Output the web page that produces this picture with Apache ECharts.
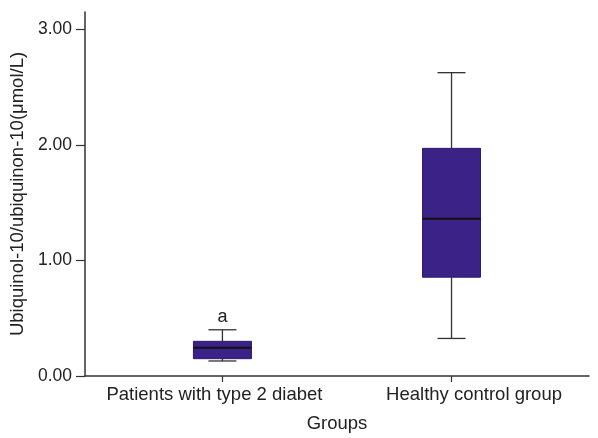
<!DOCTYPE html>
<html><head><meta charset="utf-8">
<script src="https://cdn.jsdelivr.net/npm/echarts@6/dist/echarts.min.js"></script>
<style>html,body{margin:0;padding:0;background:#fff}#c{width:598px;height:438px}</style>
</head><body><div id="c"></div>
<script>
var categories = ['Patients with type 2 diabet', 'Healthy control group'];
// [lower whisker, Q1, median, Q3, upper whisker]
var boxValues = [
  [0.13, 0.15, 0.245, 0.30, 0.40],
  [0.325, 0.855, 1.36, 1.97, 2.625]
];
var annotations = ['a', ''];
var yTicks = [0, 1, 2, 3];
var xPositions = [1, 2];

var chart = echarts.init(document.getElementById('c'), null, {renderer: 'canvas'});
var font = 'Liberation Sans, Arial, sans-serif';
var boxColor = '#3b2287';
var richKeys = ['p', 'h'];

var data = boxValues.map(function (v, i) { return [xPositions[i]].concat(v).concat([i]); });

chart.setOption({
  animation: false,
  grid: {left: 84, right: 9, top: 12, bottom: 62},
  xAxis: {
    type: 'value', min: 0.4, max: 2.6,
    name: 'Groups', nameLocation: 'middle', nameGap: 38,
    nameTextStyle: {fontFamily: font, fontSize: 18.5, color: '#222'},
    axisLine: {show: true, lineStyle: {color: '#333', width: 1.5}},
    axisTick: {show: true, length: 6, customValues: xPositions, lineStyle: {color: '#333', width: 1.2}},
    axisLabel: {customValues: xPositions, margin: 9, fontFamily: font, fontSize: 18.5, color: '#222',
      formatter: function (v) { var i = xPositions.indexOf(v); return i >= 0 ? '{' + richKeys[i] + '|' + categories[i] + '}' : ''; },
      rich: {
        p: {fontFamily: font, fontSize: 18.5, color: '#222', padding: [0, 16, 0, 0]},
        h: {fontFamily: font, fontSize: 18.5, color: '#222', padding: [0, 0, 0, 45]}
      }},
    splitLine: {show: false}
  },
  yAxis: {
    type: 'value', min: 0, max: 3.15,
    name: 'Ubiquinol-10/ubiquinon-10(μmol/L)', nameLocation: 'middle', nameGap: 56,
    nameTextStyle: {fontFamily: font, fontSize: 18.5, color: '#222'},
    axisLine: {show: true, lineStyle: {color: '#333', width: 1.5}},
    axisTick: {show: true, length: 9, customValues: yTicks, lineStyle: {color: '#333', width: 1.2}},
    axisLabel: {customValues: yTicks, margin: 13, fontFamily: font, fontSize: 17.5, color: '#222',
      formatter: function (v) { return v.toFixed(2); }},
    splitLine: {show: false}
  },
  series: [{
    type: 'custom',
    data: data,
    encode: {x: 0, y: [1, 2, 3, 4, 5]},
    renderItem: function (params, api) {
      var x = api.value(0);
      var lo = api.coord([x, api.value(1)]);
      var q1 = api.coord([x, api.value(2)]);
      var med = api.coord([x, api.value(3)]);
      var q3 = api.coord([x, api.value(4)]);
      var hi = api.coord([x, api.value(5)]);
      var idx = api.value(6);
      var cx = lo[0];
      var bw = 29, cw = 14;
      var ls = {stroke: '#333', lineWidth: 1.3};
      var children = [
        {type: 'line', shape: {x1: cx, y1: hi[1], x2: cx, y2: q3[1]}, style: ls},
        {type: 'line', shape: {x1: cx, y1: lo[1], x2: cx, y2: q1[1]}, style: ls},
        {type: 'line', shape: {x1: cx - cw, y1: hi[1], x2: cx + cw, y2: hi[1]}, style: ls},
        {type: 'line', shape: {x1: cx - cw, y1: lo[1], x2: cx + cw, y2: lo[1]}, style: ls},
        {type: 'rect', shape: {x: cx - bw, y: q3[1], width: 2 * bw, height: q1[1] - q3[1]},
          style: {fill: boxColor, stroke: '#2c1a6e', lineWidth: 1}},
        {type: 'line', shape: {x1: cx - bw, y1: med[1], x2: cx + bw, y2: med[1]}, style: {stroke: '#111', lineWidth: 2}}
      ];
      var ann = annotations[idx];
      if (ann) {
        children.push({type: 'text', x: cx, y: hi[1] - 4,
          style: {text: ann, fontFamily: font, fontSize: 18, fill: '#222', align: 'center', verticalAlign: 'bottom'}});
      }
      return {type: 'group', children: children};
    }
  }]
});
</script></body></html>
